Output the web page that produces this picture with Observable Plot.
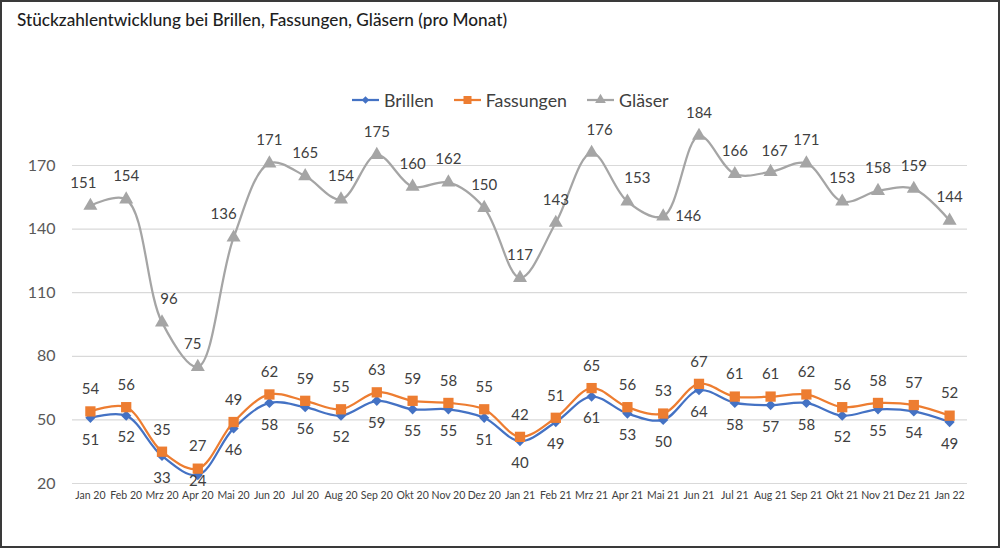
<!DOCTYPE html>
<html><head><meta charset="utf-8">
<script src="https://cdn.jsdelivr.net/npm/d3@7"></script>
<script src="https://cdn.jsdelivr.net/npm/@observablehq/plot@0.6"></script>
<style>
body{margin:0;background:#fff;font-family:Lato,"Open Sans",sans-serif;}
#wrap{position:relative;width:1000px;height:548px;overflow:hidden;background:#fff}
#title{position:absolute;left:17px;top:9px;font-size:17.2px;font-weight:500;color:#1e1e1e;white-space:nowrap}
#legend{position:absolute;left:352px;top:89px;height:22px;display:flex;align-items:center;font-size:17.8px;color:#404040;white-space:nowrap}
#legend .item{display:flex;align-items:center;margin-right:20px}
#legend svg{margin-right:5px}
#chart{position:absolute;left:0;top:111px;width:1000px}
#border{position:absolute;left:0;top:0;right:0;bottom:0;border:2px solid #3a3a3a;pointer-events:none}
</style></head><body>
<div id="wrap">
<div id="title">Stückzahlentwicklung bei Brillen, Fassungen, Gläsern (pro Monat)</div>
<div id="legend"></div>
<div id="chart"></div>
<div id="border"></div>
</div>
<script>
const months = ["Jan 20","Feb 20","Mrz 20","Apr 20","Mai 20","Jun 20","Jul 20","Aug 20","Sep 20","Okt 20","Nov 20","Dez 20",
  "Jan 21","Feb 21","Mrz 21","Apr 21","Mai 21","Jun 21","Jul 21","Aug 21","Sep 21","Okt 21","Nov 21","Dez 21","Jan 22"];
const brillen   = [51,52,33,24,46,58,56,52,59,55,55,51,40,49,61,53,50,64,58,57,58,52,55,54,49];
const fassungen = [54,56,35,27,49,62,59,55,63,59,58,55,42,51,65,56,53,67,61,61,62,56,58,57,52];
const glaeser   = [151,154,96,75,136,171,165,154,175,160,162,150,117,143,176,153,146,184,166,167,171,153,158,159,144];
const yTicks = [20,50,80,110,140,170];
const seriesNames = ["Brillen","Fassungen","Gläser"];

const colors = {"Brillen":"#4472C4","Fassungen":"#ED7D31","Gläser":"#A5A5A5"};
const symbols = {"Brillen":"diamond2","Fassungen":"square","Gläser":"triangle"};
const radii = {"Brillen":4.6,"Fassungen":5.8,"Gläser":5.2};

const toRows = (vals, s) => vals.map((v,i)=>({month:months[i], value:v, series:s, i}));
const rowsB = toRows(brillen,"Brillen");
const rowsF = toRows(fassungen,"Fassungen");
const rowsG = toRows(glaeser,"Gläser");

// label placement tweaks (index -> [dx, dy, anchor])
function groupLabels(rows, shifts, def){
  const groups = {};
  rows.forEach(r=>{
    const s = shifts[r.i] || def;
    const k = s.join("|");
    (groups[k] = groups[k] || {s, rows:[]}).rows.push(r);
  });
  return Object.values(groups).map(g=>Plot.text(g.rows,{x:"i",y:"value",text:d=>String(d.value),
    dx:g.s[0],dy:g.s[1],textAnchor:g.s[2],fontSize:15,fill:"#404040"}));
}
const gShift = {0:[-7,-23,"middle"],2:[7,-23,"middle"],3:[-5,-23,"middle"],4:[-10,-23,"middle"],
  14:[8,-23,"middle"],15:[10,-23,"middle"],16:[12,0,"start"],19:[4,-21,"middle"]};
const bShift = {3:[0,6,"middle"]};

const font = "Lato, 'Open Sans', sans-serif";
const labelMarks = [
  ...groupLabels(rowsG, gShift, [0,-23,"middle"]),
  ...groupLabels(rowsF, {}, [0,-22,"middle"]),
  ...groupLabels(rowsB, bShift, [0,22,"middle"])
];

const seriesMarks = [];
[rowsB,rowsF,rowsG].forEach(rows=>{
  const s = rows[0].series;
  seriesMarks.push(Plot.line(rows,{x:"i",y:"value",stroke:colors[s],strokeWidth:2.25,curve:"catmull-rom"}));
  seriesMarks.push(Plot.dot(rows,{x:"i",y:"value",symbol:symbols[s],r:radii[s],fill:colors[s],stroke:"none"}));
});

const plot = Plot.plot({
  width:1000, height:435,
  marginLeft:72, marginRight:33, marginTop:54, marginBottom:63,
  style:{fontFamily:font, overflow:"visible", background:"transparent"},
  x:{type:"linear", domain:[-0.5, months.length-0.5], label:null},
  y:{domain:[20,170], label:null},
  marks:[
    Plot.ruleY(yTicks,{stroke:"#d9d9d9",strokeWidth:1.2}),
    Plot.axisY({ticks:yTicks, tickSize:0, tickPadding:17, fontSize:16, color:"#595959", label:null}),
    Plot.axisX({ticks:d3.range(months.length), tickFormat:i=>months[i], tickSize:0, tickPadding:8, fontSize:10.5, color:"#404040", label:null}),
    ...seriesMarks,
    ...labelMarks
  ]
});
document.getElementById("chart").appendChild(plot);

// legend
const legend = d3.select("#legend");
seriesNames.forEach(s=>{
  const it = legend.append("div").attr("class","item");
  const svg = it.append("svg").attr("width",27).attr("height",14);
  svg.append("line").attr("x1",0).attr("x2",27).attr("y1",7).attr("y2",7).attr("stroke",colors[s]).attr("stroke-width",2.25);
  const sym = {"Brillen":d3.symbolDiamond2,"Fassungen":d3.symbolSquare,"Gläser":d3.symbolTriangle}[s];
  const size = {"Brillen":36,"Fassungen":64,"Gläser":50}[s];
  svg.append("path").attr("d",d3.symbol(sym,size)()).attr("transform","translate(13.5,7)").attr("fill",colors[s]);
  it.append("span").text(s);
});
</script>
</body></html>
